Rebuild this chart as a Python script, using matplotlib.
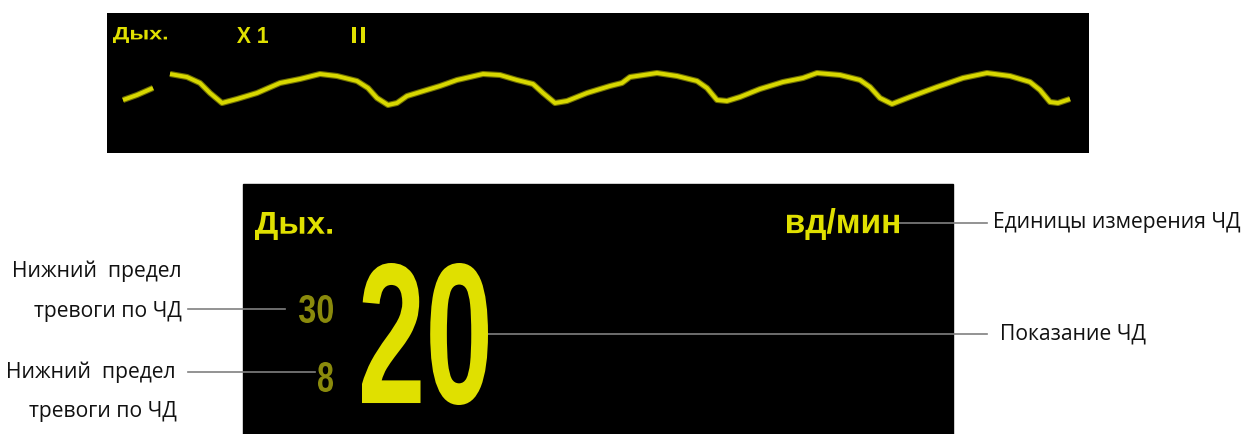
import matplotlib
matplotlib.use("Agg")
import matplotlib.pyplot as plt
from matplotlib.patches import Rectangle
from matplotlib.patheffects import AbstractPathEffect
from matplotlib.transforms import Affine2D

# --- data ---
# respiration waveform (sample position, amplitude), two segments with a gap
wave_t1 = [16, 30, 46]
wave_v1 = [53, 58, 65]
wave_t2 = [63, 80, 93, 103, 115, 130, 150, 173, 193, 213, 230, 250, 261, 270,
           281, 290, 300, 333, 350, 376, 393, 410, 426, 436, 448, 460, 480, 503,
           515, 523, 550, 570, 590, 600, 610, 620, 633, 653, 676, 696, 710, 733,
           753, 763, 773, 785, 803, 830, 856, 880, 903, 923, 933, 943, 951, 963]
wave_v2 = [79, 76, 70, 60, 50, 54, 60, 70, 74, 79, 77, 72, 65, 55,
           48, 50, 57, 67, 73, 79, 78, 73, 69, 60, 50, 52, 60, 67,
           70, 76, 80, 77, 72, 65, 53, 52, 56, 64, 71, 75, 80, 78,
           73, 66, 55, 49, 56, 66, 75, 80, 77, 71, 63, 51, 50, 54]

wave_labels = ["Дых.", "X 1", "II"]
param_label = "Дых."
rr_value = "20"
rr_high = "30"
rr_low = "8"
rr_unit = "вд/мин"

left_notes = ["Нижний  предел", "тревоги по ЧД", "Нижний  предел", "тревоги по ЧД"]
right_notes = ["Единицы измерения ЧД", "Показание ЧД"]

W, H = 1246, 434
YELLOW = "#e0e000"
OLIVE = "#8a8a0c"
GREY = "#808080"


class FitBox(AbstractPathEffect):
    """Stretch the glyph outline so its ink fills a box given in data units."""

    def __init__(self, trans, box):
        super().__init__()
        self.trans = trans
        self.box = box

    def draw_path(self, renderer, gc, tpath, affine, rgbFace=None):
        x0, y0, x1, y1 = self.box
        (px0, py0), (px1, py1) = self.trans.transform([(x0, y0), (x1, y1)])
        bx0, bx1 = min(px0, px1), max(px0, px1)
        by0, by1 = min(py0, py1), max(py0, py1)
        bb = tpath.get_extents(affine)
        fit = (Affine2D().translate(-bb.x0, -bb.y0)
               .scale((bx1 - bx0) / bb.width, (by1 - by0) / bb.height)
               .translate(bx0, by0))
        renderer.draw_path(gc, tpath, affine + fit, rgbFace)


def screen_text(ax, s, box, color, size):
    x0, y0, x1, y1 = box
    ax.text((x0 + x1) / 2, (y0 + y1) / 2, s,
            fontsize=size, fontweight="bold", family="Liberation Sans",
            color=color, ha="center", va="center",
            path_effects=[FitBox(ax.transData, box)])


fig = plt.figure(figsize=(W / 100, H / 100), dpi=100)
ax = fig.add_axes([0, 0, 1, 1])
ax.set_xlim(0, W)
ax.set_ylim(H, 0)
ax.axis("off")

# bottom monitor panel
ax.add_patch(Rectangle((243, 184), 710, 250, color="black", zorder=0))
screen_text(ax, param_label, (255, 212, 332, 240), YELLOW, 26)
screen_text(ax, rr_unit, (787, 208, 899, 240), YELLOW, 22)
screen_text(ax, rr_high, (299, 295, 333, 323), OLIVE, 26)
screen_text(ax, rr_low, (318, 362, 333, 392), OLIVE, 26)
screen_text(ax, rr_value, (362, 263, 488, 405), YELLOW, 96)

# leader lines
ax.plot([188, 285], [309, 309], color=GREY, lw=1.2)
ax.plot([188, 315], [372, 372], color=GREY, lw=1.2)
ax.plot([488, 987], [334, 334], color=GREY, lw=1.2, zorder=1)
ax.plot([899, 987], [223, 223], color=GREY, lw=1.2)

# callout texts
note_font = dict(family="Open Sans", fontsize=15.2, color="#111111", va="baseline")
ax.text(182, 277, left_notes[0], ha="right", **note_font)
ax.text(182, 317, left_notes[1], ha="right", **note_font)
ax.text(176, 378, left_notes[2], ha="right", **note_font)
ax.text(177, 417, left_notes[3], ha="right", **note_font)
ax.text(993, 228, right_notes[0], ha="left", **note_font)
ax.text(1000, 340, right_notes[1], ha="left", **note_font)

# top waveform panel
wax = fig.add_axes([107 / W, (H - 153) / H, 982 / W, 140 / H])
wax.set_facecolor("black")
wax.set_xlim(0, 982)
wax.set_ylim(0, 140)
wax.set_xticks([])
wax.set_yticks([])
for sp in wax.spines.values():
    sp.set_visible(False)

for t, v in [(wave_t1, wave_v1), (wave_t2, wave_v2)]:
    wax.plot(t, v, color="#707000", lw=4.4, solid_capstyle="butt", solid_joinstyle="round")
    wax.plot(t, v, color="#d8d800", lw=2.8, solid_capstyle="butt", solid_joinstyle="round")

screen_text(wax, wave_labels[0], (6, 110, 60, 126), YELLOW, 14)
screen_text(wax, wave_labels[1], (130, 110, 161, 126), YELLOW, 14)
screen_text(wax, wave_labels[2], (245, 110, 258, 126), YELLOW, 14)

fig.savefig("out.png", dpi=100, facecolor="white")
